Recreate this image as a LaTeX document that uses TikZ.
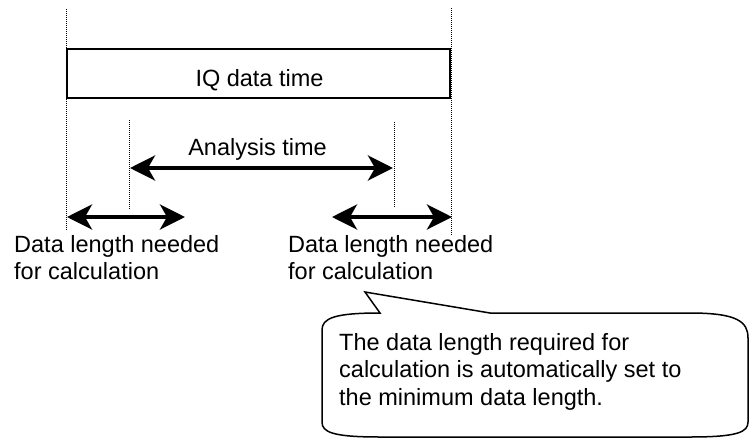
\documentclass[tikz,border=0pt]{standalone}
\usepackage{fontspec}
\setmainfont{Liberation Sans}
\usetikzlibrary{arrows.meta}
\begin{document}
\begin{tikzpicture}[x=1pt,y=-1pt,
  lbl/.style={inner sep=0pt,font=\fontsize{23.5}{27.5}\selectfont},
  guide/.style={line width=1pt,dash pattern=on 1pt off 1pt},
  dbl/.style={line width=4pt,{Stealth[length=25pt,width=25pt,inset=7pt]}-{Stealth[length=25pt,width=25pt,inset=7pt]},shorten <=0pt,shorten >=0pt},
  boxline/.style={line width=1.5pt}]
\useasboundingbox (0,0) rectangle (749,439);
% guides
\coordinate (g1a) at (66,9);   \coordinate (g1b) at (66,230);
\coordinate (g2a) at (451,8);  \coordinate (g2b) at (451,235);
\coordinate (g3a) at (129,120); \coordinate (g3b) at (129,210);
\coordinate (g4a) at (394,122); \coordinate (g4b) at (394,207);
\draw[guide] (g1a) -- (g1b);
\draw[guide] (g2a) -- (g2b);
\draw[guide] (g3a) -- (g3b);
\draw[guide] (g4a) -- (g4b);
% IQ data box
\node[boxline,draw,minimum width=383pt,minimum height=49pt,inner sep=0pt,anchor=north west] (iq) at (66,48) {};
\node[lbl,anchor=base] (iqt) at (259.5,86.5) {IQ data time};
% analysis
\coordinate (a1) at (130,168); \coordinate (a2) at (393,168);
\draw[dbl] (a1) -- (a2);
\node[lbl,anchor=base] (at) at (257.5,155) {Analysis time};
% data length arrows
\coordinate (l1) at (67,217); \coordinate (l2) at (185,217);
\coordinate (r1) at (332,217); \coordinate (r2) at (452,217);
\draw[dbl] (l1) -- (l2);
\draw[dbl] (r1) -- (r2);
\node[lbl,anchor=north west,align=left] (ll) at (14,235) {Data length needed\\for calculation};
\node[lbl,anchor=north west,align=left] (rl) at (288,235) {Data length needed\\for calculation};
% callout
\coordinate (tip) at (365,292);
\draw[boxline,fill=white] (380,313) -- (tip) -- (490,313) -- (690,313)
  .. controls (738,313) and (748,322) .. (748,338) -- (748,422)
  .. controls (748,432) and (738,437) .. (690,437) -- (380,437)
  .. controls (332,437) and (322,432) .. (322,422) -- (322,330)
  .. controls (322,318) and (335,313) .. (380,313) -- cycle;
\node[lbl,anchor=north west,align=left] (ct) at (339,333) {The data length required for\\calculation is automatically set to\\the minimum data length.};
\end{tikzpicture}
\end{document}
